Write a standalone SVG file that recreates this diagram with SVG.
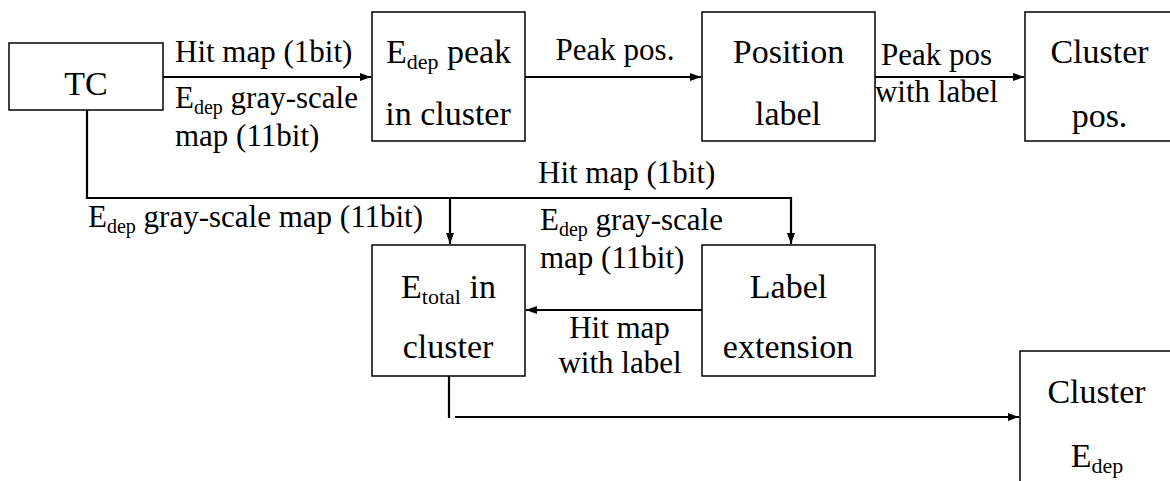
<svg xmlns="http://www.w3.org/2000/svg" width="1170" height="481" viewBox="0 0 1170 481">
  <style>
    text { font-family: 'Liberation Serif', 'DejaVu Serif', 'Times New Roman', Times, serif; fill: #000000; }
    .box { fill: #ffffff; stroke: #000000; stroke-width: 1.5; }
    .node { font-size: 34px; text-anchor: middle; }
    .lbl { font-size: 31px; }
    .mid { text-anchor: middle; }
    .sub { font-size: 22px; }
    .sub2 { font-size: 20px; }
    .wire { fill: none; stroke: #000000; stroke-width: 2.2; }
  </style>
  <defs>
    <marker id="arrow" viewBox="0 0 11 8" refX="11" refY="4" markerWidth="11" markerHeight="8" markerUnits="userSpaceOnUse" orient="auto">
      <path d="M0,0 L11,4 L0,8 z" fill="#000000"/>
    </marker>
  </defs>

  <rect width="1170" height="481" fill="#ffffff"/>

  <!-- connectors -->
  <g id="connectors">
    <path class="wire" d="M163,77 H371" marker-end="url(#arrow)"/>
    <path class="wire" d="M525,77 H701" marker-end="url(#arrow)"/>
    <path class="wire" d="M875,77 H1024" marker-end="url(#arrow)"/>
    <path class="wire" d="M87,110 V198 H791 V244" marker-end="url(#arrow)"/>
    <path class="wire" d="M450,198 V244" marker-end="url(#arrow)"/>
    <path class="wire" d="M702,310 H526" marker-end="url(#arrow)"/>
    <path class="wire" d="M449,376 V418"/>
    <path class="wire" d="M455,417 H1019" marker-end="url(#arrow)"/>

    <!-- connector labels -->
    <text class="lbl" x="175" y="62" font-family="Liberation Serif, serif">Hit map (1bit)</text>
    <text class="lbl" x="175" y="108">E<tspan class="sub2" dy="6">dep</tspan><tspan dy="-6"> gray-scale</tspan></text>
    <text class="lbl" x="175" y="146">map (11bit)</text>
    <text class="lbl mid" x="615" y="60">Peak pos.</text>
    <text class="lbl mid" x="936.5" y="65">Peak pos</text>
    <text class="lbl mid" x="936.5" y="102">with label</text>
    <text class="lbl" x="538" y="183">Hit map (1bit)</text>
    <text class="lbl" x="540" y="230">E<tspan class="sub2" dy="6">dep</tspan><tspan dy="-6"> gray-scale</tspan></text>
    <text class="lbl" x="540" y="268">map (11bit)</text>
    <text class="lbl" x="88" y="227">E<tspan class="sub2" dy="6">dep</tspan><tspan dy="-6"> gray-scale map (11bit)</tspan></text>
    <text class="lbl mid" x="619.5" y="338">Hit map</text>
    <text class="lbl mid" x="620" y="373">with label</text>
  </g>

  <!-- nodes -->
  <g id="tc">
    <rect class="box" x="9" y="43" width="154" height="67"/>
    <text class="node" x="86" y="95">TC</text>
  </g>

  <g id="edep-peak">
    <rect class="box" x="372" y="12" width="153" height="129"/>
    <text class="node" x="448.5" y="63">E<tspan class="sub" dy="6">dep</tspan><tspan dy="-6"> peak</tspan></text>
    <text class="node" x="448" y="125">in cluster</text>
  </g>

  <g id="position-label">
    <rect class="box" x="702" y="12" width="173" height="129"/>
    <text class="node" x="788.5" y="63">Position</text>
    <text class="node" x="788" y="125">label</text>
  </g>

  <g id="cluster-pos">
    <rect class="box" x="1025" y="12" width="160" height="129"/>
    <text class="node" x="1099.5" y="63">Cluster</text>
    <text class="node" x="1099.5" y="127">pos.</text>
  </g>

  <g id="etotal">
    <rect class="box" x="372" y="245" width="153" height="131"/>
    <text class="node" x="448.5" y="298">E<tspan class="sub" dy="6">total</tspan><tspan dy="-6"> in</tspan></text>
    <text class="node" x="448" y="358">cluster</text>
  </g>

  <g id="label-extension">
    <rect class="box" x="702" y="245" width="173" height="131"/>
    <text class="node" x="788.5" y="298">Label</text>
    <text class="node" x="788" y="358">extension</text>
  </g>

  <g id="cluster-edep">
    <rect class="box" x="1020" y="351" width="170" height="150"/>
    <text class="node" x="1096.5" y="403">Cluster</text>
    <text class="node" x="1097" y="467">E<tspan class="sub" dy="6">dep</tspan></text>
  </g>
</svg>
